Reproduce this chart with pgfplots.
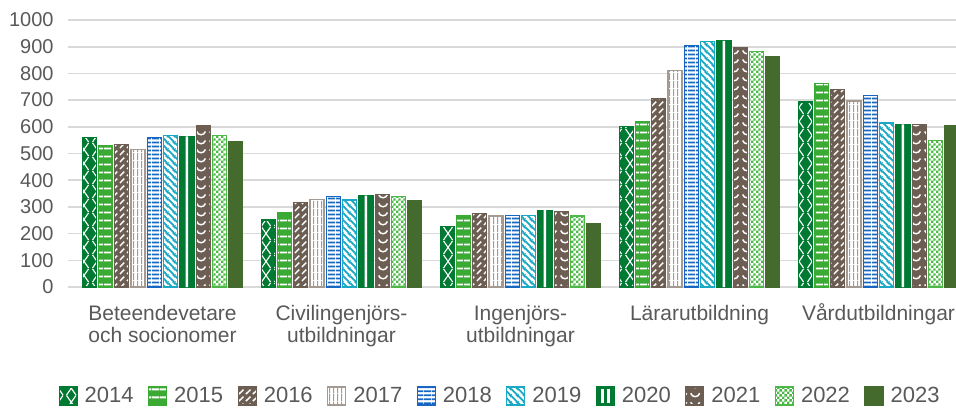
\documentclass[border=0pt]{standalone}
\usepackage{fontspec}
\setmainfont{Liberation Sans}
\usepackage{pgfplots}
\pgfplotsset{compat=1.18}
\usetikzlibrary{patterns}

\definecolor{cdkgreen}{HTML}{007A33}
\definecolor{cgreen}{HTML}{3AAA35}
\definecolor{cbrown}{HTML}{6D5E54}
\definecolor{ctaupe}{HTML}{A59A92}
\definecolor{cblue}{HTML}{1766C2}
\definecolor{cteal}{HTML}{1BA8C4}
\definecolor{clgreen}{HTML}{4DB848}
\definecolor{colive}{HTML}{446A2E}
\definecolor{gridgrey}{HTML}{D9D9D9}
\definecolor{textgrey}{HTML}{595959}

\newcommand\sx{\rule{0pt}{8.5bp}}

% patterns
\pgfdeclarepatternformonly{zigzagX}{\pgfpointorigin}{\pgfpoint{6.5bp}{7bp}}{\pgfpoint{6.5bp}{7bp}}{%
  \pgfsetlinewidth{0.6bp}%
  \pgfpathmoveto{\pgfpoint{0.8bp}{0bp}}\pgfpathlineto{\pgfpoint{5.7bp}{7bp}}%
  \pgfpathmoveto{\pgfpoint{5.7bp}{0bp}}\pgfpathlineto{\pgfpoint{0.8bp}{7bp}}%
  \pgfusepath{stroke}}
\pgfdeclarepatternformonly{hwide}{\pgfpointorigin}{\pgfpoint{4bp}{3.75bp}}{\pgfpoint{4bp}{3.75bp}}{%
  \pgfsetlinewidth{1bp}%
  \pgfpathmoveto{\pgfpoint{0bp}{1.875bp}}\pgfpathlineto{\pgfpoint{4bp}{1.875bp}}%
  \pgfusepath{stroke}}
\pgfdeclarepatternformonly{hdense}{\pgfpointorigin}{\pgfpoint{4bp}{2bp}}{\pgfpoint{4bp}{2bp}}{%
  \pgfsetlinewidth{1.1bp}%
  \pgfpathmoveto{\pgfpoint{0bp}{1bp}}\pgfpathlineto{\pgfpoint{4bp}{1bp}}%
  \pgfusepath{stroke}}
\pgfdeclarepatternformonly{vdense}{\pgfpointorigin}{\pgfpoint{2bp}{4bp}}{\pgfpoint{2bp}{4bp}}{%
  \pgfsetlinewidth{0.6bp}%
  \pgfpathmoveto{\pgfpoint{1bp}{0bp}}\pgfpathlineto{\pgfpoint{1bp}{4bp}}%
  \pgfusepath{stroke}}
\pgfdeclarepatternformonly{nwthick}{\pgfpointorigin}{\pgfpoint{3.5bp}{3.5bp}}{\pgfpoint{3.5bp}{3.5bp}}{%
  \pgfsetlinewidth{1bp}%
  \pgfpathmoveto{\pgfpoint{0bp}{3.5bp}}\pgfpathlineto{\pgfpoint{3.5bp}{0bp}}%
  \pgfpathmoveto{\pgfpoint{-1.75bp}{1.75bp}}\pgfpathlineto{\pgfpoint{1.75bp}{-1.75bp}}%
  \pgfpathmoveto{\pgfpoint{1.75bp}{5.25bp}}\pgfpathlineto{\pgfpoint{5.25bp}{1.75bp}}%
  \pgfusepath{stroke}}
\pgfdeclarepatternformonly{nedash}{\pgfpointorigin}{\pgfpoint{3.5bp}{3.5bp}}{\pgfpoint{3.5bp}{3.5bp}}{%
  \pgfsetlinewidth{0.8bp}%
  \pgfpathmoveto{\pgfpoint{0.5bp}{0.5bp}}\pgfpathlineto{\pgfpoint{3bp}{3bp}}%
  \pgfusepath{stroke}}
\pgfdeclarepatternformonly{chevron}{\pgfpointorigin}{\pgfpoint{6.5bp}{4.5bp}}{\pgfpoint{6.5bp}{4.5bp}}{%
  \pgfsetlinewidth{0.8bp}%
  \pgfpathmoveto{\pgfpoint{0.9bp}{3.6bp}}%
  \pgfpathcurveto{\pgfpoint{1.6bp}{1.2bp}}{\pgfpoint{4.9bp}{1.2bp}}{\pgfpoint{5.6bp}{3.6bp}}%
  \pgfusepath{stroke}}
\pgfdeclarepatternformonly{checker}{\pgfpointorigin}{\pgfpoint{2.4bp}{2.4bp}}{\pgfpoint{2.4bp}{2.4bp}}{%
  \pgfpathrectangle{\pgfpointorigin}{\pgfpoint{1.2bp}{1.2bp}}%
  \pgfpathrectangle{\pgfpoint{1.2bp}{1.2bp}}{\pgfpoint{1.2bp}{1.2bp}}%
  \pgfusepath{fill}}

\pgfplotsset{
  bars/.style={ybar, bar width=7bp, line width=0.6bp,
    legend image code/.code={\draw[##1] (0bp,-4.5bp) rectangle (9bp,4.5bp);}},
}

\begin{document}
\begin{tikzpicture}
\path[use as bounding box] (-36.5bp,-60.5bp) rectangle (441.5bp,143.5bp);
\begin{scope}
\clip (-36.5bp,-60.5bp) rectangle (441.5bp,143.5bp);
\begin{axis}[
  at={(0,0)}, anchor=south west,
  scale only axis, width=447.5bp, height=133.5bp,
  xmin=-0.5, xmax=4.5, ymin=0, ymax=1000,
  axis x line*=bottom, axis y line*=left,
  y axis line style={draw=none},
  x axis line style={gridgrey, line width=0.8bp},
  xtick={0,1,2,3,4},
  xticklabels={{\sx Beteendevetare\\och socionomer},{\sx Civilingenjörs-\\utbildningar},{\sx Ingenjörs-\\utbildningar},{\sx Lärarutbildning},{\sx Vårdutbildningar}},
  xtick style={draw=none},
  ytick={0,100,...,1000},
  ytick style={draw=gridgrey, line width=0.8bp},
  tick align=outside, major tick length=2.5bp,
  ymajorgrids, grid style={gridgrey, line width=0.8bp},
  /pgf/number format/assume math mode=true,
  /pgf/number format/1000 sep={},
  yticklabel style={font=\fontsize{10bp}{12bp}\selectfont, text=textgrey, inner sep=0pt, xshift=-7bp},
  xticklabel style={font=\fontsize{10.5bp}{11bp}\selectfont, text=textgrey, align=center, inner sep=0pt, anchor=north, yshift=-5.6bp},
  legend columns=10,
  legend style={draw=none, fill=none, at={(0.476,-0.408)}, anchor=center,
    font=\fontsize{11bp}{13bp}\selectfont, text=textgrey, inner sep=0pt,
    nodes={inner sep=0pt}, column sep=3.5bp,
    /tikz/every even column/.append style={column sep=7.2bp}},
]
\addplot[bars, bar shift=-36.675bp, fill=cdkgreen, draw=cdkgreen, postaction={pattern=zigzagX, pattern color=white}]
  coordinates {(0,561) (1,251) (2,226) (3,601) (4,693)};
\addlegendentry{2014}
\addplot[bars, bar shift=-28.525bp, fill=cgreen, draw=cgreen, postaction={pattern=hwide, pattern color=white}]
  coordinates {(0,530) (1,277) (2,268) (3,620) (4,762)};
\addlegendentry{2015}
\addplot[bars, bar shift=-20.375bp, fill=cbrown, draw=cbrown, postaction={pattern=nedash, pattern color=white}]
  coordinates {(0,533) (1,317) (2,274) (3,705) (4,741)};
\addlegendentry{2016}
\addplot[bars, bar shift=-12.225bp, fill=white, draw=ctaupe, postaction={pattern=vdense, pattern color=ctaupe}]
  coordinates {(0,514) (1,327) (2,266) (3,812) (4,697)};
\addlegendentry{2017}
\addplot[bars, bar shift=-4.075bp, fill=white, draw=cblue, postaction={pattern=hdense, pattern color=cblue}]
  coordinates {(0,559) (1,338) (2,269) (3,905) (4,718)};
\addlegendentry{2018}
\addplot[bars, bar shift=4.075bp, fill=white, draw=cteal, postaction={pattern=nwthick, pattern color=cteal}]
  coordinates {(0,568) (1,326) (2,267) (3,918) (4,614)};
\addlegendentry{2019}
\addplot[bars, bar shift=12.225bp, fill=cdkgreen, draw=cdkgreen,
  legend image code/.code={\draw[fill=cdkgreen, draw=cdkgreen] (0bp,-4.5bp) rectangle (9bp,4.5bp);
    \fill[white] (2.4bp,-3.2bp) rectangle (3.6bp,3.2bp);
    \fill[white] (5.4bp,-3.2bp) rectangle (6.6bp,3.2bp);}]
  coordinates {(0,564) (1,342) (2,288) (3,922) (4,609)};
\addlegendentry{2020}
\addplot[ybar, bar width=1.2bp, bar shift=12.225bp, fill=white, draw=none, forget plot]
  coordinates {(0,564) (1,342) (2,288) (3,922) (4,609)};
\addplot[bars, bar shift=20.375bp, fill=cbrown, draw=cbrown, postaction={pattern=chevron, pattern color=white}]
  coordinates {(0,603) (1,347) (2,282) (3,895) (4,608)};
\addlegendentry{2021}
\addplot[bars, bar shift=28.525bp, fill=white, draw=clgreen, postaction={pattern=checker, pattern color=clgreen}]
  coordinates {(0,566) (1,340) (2,266) (3,882) (4,549)};
\addlegendentry{2022}
\addplot[bars, bar shift=36.675bp, fill=colive, draw=colive]
  coordinates {(0,544) (1,325) (2,239) (3,862) (4,606)};
\addlegendentry{2023}
\end{axis}
\end{scope}
\end{tikzpicture}
\end{document}
